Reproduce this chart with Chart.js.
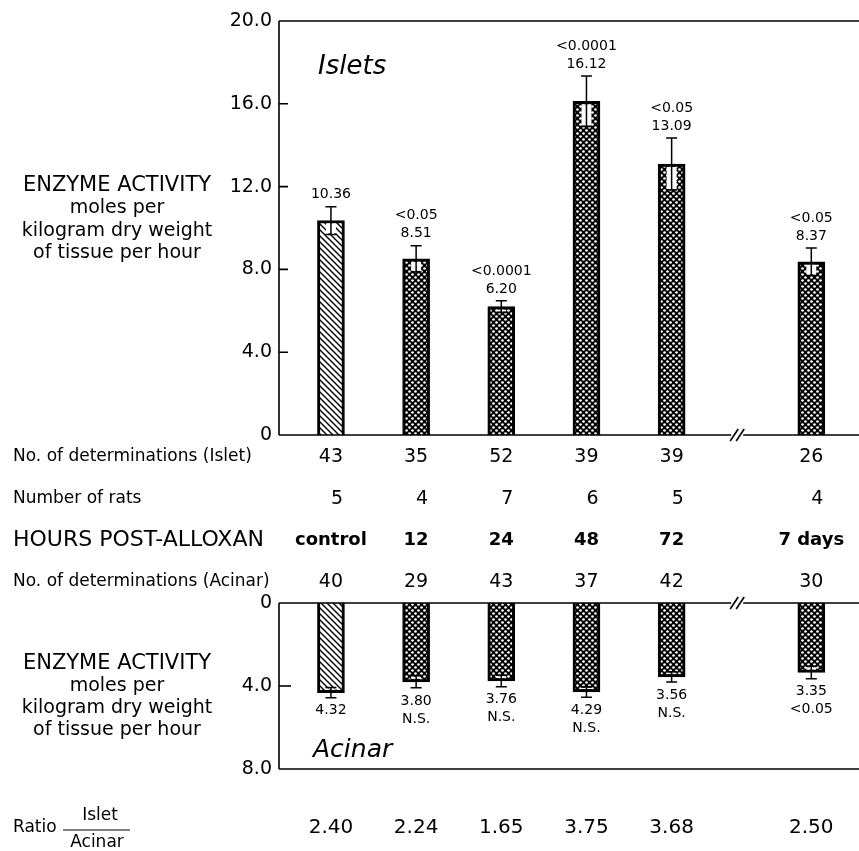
<!DOCTYPE html>
<html><head><meta charset="utf-8">
<script src="https://cdn.jsdelivr.net/npm/chart.js@4.4.1/dist/chart.umd.min.js"></script>
<style>
html,body{margin:0;padding:0;background:#fff;}
#wrap{position:relative;width:859px;height:851px;background:#fff;}
canvas{position:absolute;left:0;top:0;}
</style></head><body>
<div id="wrap"><canvas id="cTop" width="859" height="851"></canvas><canvas id="cBot" width="859" height="851"></canvas></div>
<script>
// ---------- data ----------
const categories   = ['control', '12', '24', '48', '72', '7 days'];
const isletMeans   = [10.36, 8.51, 6.20, 16.12, 13.09, 8.37];
const isletSE      = [0.67, 0.63, 0.28, 1.22, 1.26, 0.66];
const isletP       = ['', '<0.05', '<0.0001', '<0.0001', '<0.05', '<0.05'];
const acinarMeans  = [4.32, 3.80, 3.76, 4.29, 3.56, 3.35];
const acinarSE     = [0.25, 0.29, 0.28, 0.25, 0.25, 0.30];
const acinarP      = ['', 'N.S.', 'N.S.', 'N.S.', 'N.S.', '<0.05'];
const isletN       = ['43', '35', '52', '39', '39', '26'];
const ratsN        = ['5', '4', '7', '6', '5', '4'];
const acinarN      = ['40', '29', '43', '37', '42', '30'];
const ratios       = ['2.40', '2.24', '1.65', '3.75', '3.68', '2.50'];
const isletTicks   = ['0', '4.0', '8.0', '12.0', '16.0', '20.0'];
const acinarTicks  = ['0', '4.0', '8.0'];
const yLabelLines  = ['ENZYME ACTIVITY', 'moles per', 'kilogram dry weight', 'of tissue per hour'];

// ---------- layout helpers ----------
const FONT = 'DejaVu Sans';
const GAP = 0.64;                       // extra space after the axis break
const slot = i => i + (i === categories.length - 1 ? GAP : 0);
const breakPos = (categories.length - 2) + (1 + GAP) / 2 - 0.05;

function hatchPattern(){
  const s = 6, c = document.createElement('canvas'); c.width = c.height = s;
  const g = c.getContext('2d');
  g.fillStyle = '#fff'; g.fillRect(0,0,s,s);
  g.strokeStyle = '#000'; g.lineWidth = 1.4;
  g.beginPath();
  g.moveTo(-1,-1); g.lineTo(s+1,s+1);
  g.moveTo(-1,s-1); g.lineTo(1,s+1);
  g.moveTo(s-1,-1); g.lineTo(s+1,1);
  g.stroke();
  return g.createPattern(c,'repeat');
}
function dotPattern(){
  const s = 6, c = document.createElement('canvas'); c.width = c.height = s;
  const g = c.getContext('2d');
  g.fillStyle = '#000'; g.fillRect(0,0,s,s);
  g.fillStyle = '#fff';
  [[1.5,1.5],[4.5,4.5]].forEach(([x,y])=>{ g.beginPath(); g.arc(x,y,1.35,0,Math.PI*2); g.fill(); });
  return g.createPattern(c,'repeat');
}
const HATCH = hatchPattern(), DOTS = dotPattern();
const fills = categories.map((c,i)=> i === 0 ? HATCH : DOTS);

function text(ctx, s, x, y, font, align){
  ctx.font = font; ctx.textAlign = align || 'center'; ctx.textBaseline = 'middle';
  ctx.fillStyle = '#000'; ctx.fillText(s, x, y);
}
function brokenLine(ctx, x0, x1, y, bx){
  ctx.beginPath();
  ctx.moveTo(x0, y); ctx.lineTo(bx - 6, y);
  ctx.moveTo(bx + 6, y); ctx.lineTo(x1, y);
  ctx.stroke();
  ctx.beginPath();
  [-3, 3].forEach(k => { ctx.moveTo(bx + k - 4, y + 6); ctx.lineTo(bx + k + 4, y - 6); });
  ctx.stroke();
}
function errorBar(ctx, x, yv, yo, yi, dir){
  ctx.fillStyle = '#fff';
  const a = yv + dir * 3, b = yi - dir * 1;
  ctx.fillRect(x - 5, Math.min(a,b), 10, Math.abs(b - a));
  ctx.strokeStyle = '#000'; ctx.lineWidth = 1.5;
  ctx.beginPath();
  ctx.moveTo(x, yo); ctx.lineTo(x, yi);
  ctx.moveTo(x - 5.5, yo); ctx.lineTo(x + 5.5, yo);
  ctx.moveTo(x - 5.5, yi); ctx.lineTo(x + 5.5, yi);
  ctx.stroke();
}

const xCfg = { type:'linear', min:-0.61, max:6.2, offset:false, display:false, grid:{ offset:false } };

// ---------- top chart (islets) ----------
const topPlugin = {
  id:'topDeco',
  afterDatasetsDraw(chart){
    const ctx = chart.ctx, xs = chart.scales.x, ys = chart.scales.y;
    ctx.save();
    isletMeans.forEach((m,i)=>{
      const x = xs.getPixelForValue(slot(i));
      const yv = ys.getPixelForValue(m), yo = ys.getPixelForValue(m + isletSE[i]), yi = ys.getPixelForValue(m - isletSE[i]);
      errorBar(ctx, x, yv, yo, yi, 1);
      text(ctx, m.toFixed(2), x, yo - 12, '14px ' + FONT);
      if (isletP[i]) text(ctx, isletP[i], x, yo - 30, '14px ' + FONT);
    });
    ctx.restore();
  },
  afterDraw(chart){
    const ctx = chart.ctx, a = chart.chartArea, xs = chart.scales.x, ys = chart.scales.y;
    ctx.save();
    ctx.strokeStyle = '#000'; ctx.lineWidth = 1.6;
    ctx.beginPath(); ctx.moveTo(a.left, a.top); ctx.lineTo(a.left, a.bottom);
    ctx.moveTo(a.left, a.top); ctx.lineTo(a.right, a.top); ctx.stroke();
    brokenLine(ctx, a.left, a.right, a.bottom, xs.getPixelForValue(breakPos));
    ctx.beginPath();
    [4,8,12,16].forEach(v => { const y = ys.getPixelForValue(v); ctx.moveTo(a.left, y); ctx.lineTo(a.left + 9, y); });
    ctx.stroke();
    text(ctx, 'Islets', 318, 67, 'italic 26px ' + FONT, 'left');
    const ly = [186, 208, 231, 253];
    yLabelLines.forEach((s,k)=> text(ctx, s, 117, ly[k], (k === 0 ? '21px ' : '19px ') + FONT));
    const rows = [
      {label:'No. of determinations (Islet)', vals:isletN, y:457, lf:'17px ', vf:'19px '},
      {label:'Number of rats', vals:ratsN, y:499, lf:'17px ', vf:'19px ', right:true},
      {label:'HOURS POST-ALLOXAN', vals:categories, y:540, lf:'22px ', vf:'bold 18px '},
      {label:'No. of determinations (Acinar)', vals:acinarN, y:582, lf:'17px ', vf:'19px '}
    ];
    rows.forEach(r=>{
      text(ctx, r.label, 13, r.y, r.lf + FONT, 'left');
      r.vals.forEach((v,i)=>{
        const x = xs.getPixelForValue(slot(i));
        if (r.right){ ctx.font = r.vf + FONT; const w = ctx.measureText('00').width; text(ctx, v, x + w/2, r.y, r.vf + FONT, 'right'); }
        else text(ctx, v, x, r.y, r.vf + FONT);
      });
    });
    ctx.restore();
  }
};

new Chart(document.getElementById('cTop'), {
  type:'bar',
  data:{ datasets:[{
    data: isletMeans.map((v,i)=>({x:slot(i), y:v})),
    backgroundColor: fills, borderColor:'#000', borderWidth:3, barThickness:27, borderSkipped:'start'
  }]},
  options:{
    responsive:false, animation:false, devicePixelRatio:1,
    layout:{ padding:{ top:21, bottom:416, left:0, right:0 } },
    plugins:{ legend:{display:false}, tooltip:{enabled:false} },
    scales:{
      x: xCfg,
      y: { min:0, max:20, afterFit(s){ s.width = 279; },
           grid:{ display:false, drawTicks:false }, border:{ display:false },
           ticks:{ stepSize:4, padding:7, color:'#000', font:{ family:FONT, size:19 },
                   callback:v => isletTicks[Math.round(v/4)] } }
    }
  },
  plugins:[topPlugin]
});

// ---------- bottom chart (acinar) ----------
const botPlugin = {
  id:'botDeco',
  afterDatasetsDraw(chart){
    const ctx = chart.ctx, xs = chart.scales.x, ys = chart.scales.y;
    ctx.save();
    acinarMeans.forEach((m,i)=>{
      const x = xs.getPixelForValue(slot(i));
      const yv = ys.getPixelForValue(m), yo = ys.getPixelForValue(m + acinarSE[i]), yi = ys.getPixelForValue(m - acinarSE[i]);
      errorBar(ctx, x, yv, yo, yi, -1);
      text(ctx, m.toFixed(2), x, yo + 13, '14px ' + FONT);
      if (acinarP[i]) text(ctx, acinarP[i], x, yo + 31, '14px ' + FONT);
    });
    ctx.restore();
  },
  afterDraw(chart){
    const ctx = chart.ctx, a = chart.chartArea, xs = chart.scales.x, ys = chart.scales.y;
    ctx.save();
    ctx.strokeStyle = '#000'; ctx.lineWidth = 1.6;
    ctx.beginPath(); ctx.moveTo(a.left, a.top); ctx.lineTo(a.left, a.bottom);
    ctx.moveTo(a.left, a.bottom); ctx.lineTo(a.right, a.bottom); ctx.stroke();
    brokenLine(ctx, a.left, a.right, a.top, xs.getPixelForValue(breakPos));
    ctx.beginPath();
    const y4 = ys.getPixelForValue(4); ctx.moveTo(a.left, y4); ctx.lineTo(a.left + 12, y4);
    ctx.stroke();
    text(ctx, 'Acinar', 313, 750, 'italic 25px ' + FONT, 'left');
    const ly = [664, 686, 708, 730];
    yLabelLines.forEach((s,k)=> text(ctx, s, 117, ly[k], (k === 0 ? '21px ' : '19px ') + FONT));
    text(ctx, 'Ratio', 13, 828, '17px ' + FONT, 'left');
    text(ctx, 'Islet', 100, 816, '17px ' + FONT);
    text(ctx, 'Acinar', 97, 843, '17px ' + FONT);
    ctx.lineWidth = 1; ctx.beginPath(); ctx.moveTo(63, 830); ctx.lineTo(130, 830); ctx.stroke();
    ratios.forEach((r,i)=> text(ctx, r, xs.getPixelForValue(slot(i)), 828, '20px ' + FONT));
    ctx.restore();
  }
};

new Chart(document.getElementById('cBot'), {
  type:'bar',
  data:{ datasets:[{
    data: acinarMeans.map((v,i)=>({x:slot(i), y:v})),
    backgroundColor: fills, borderColor:'#000', borderWidth:3, barThickness:27, borderSkipped:'start'
  }]},
  options:{
    responsive:false, animation:false, devicePixelRatio:1,
    layout:{ padding:{ top:603, bottom:82, left:0, right:0 } },
    plugins:{ legend:{display:false}, tooltip:{enabled:false} },
    scales:{
      x: xCfg,
      y: { min:0, max:8, reverse:true, afterFit(s){ s.width = 279; },
           grid:{ display:false, drawTicks:false }, border:{ display:false },
           ticks:{ stepSize:4, padding:7, color:'#000', font:{ family:FONT, size:19 },
                   callback:v => acinarTicks[Math.round(v/4)] } }
    }
  },
  plugins:[botPlugin]
});
</script>
</body></html>
